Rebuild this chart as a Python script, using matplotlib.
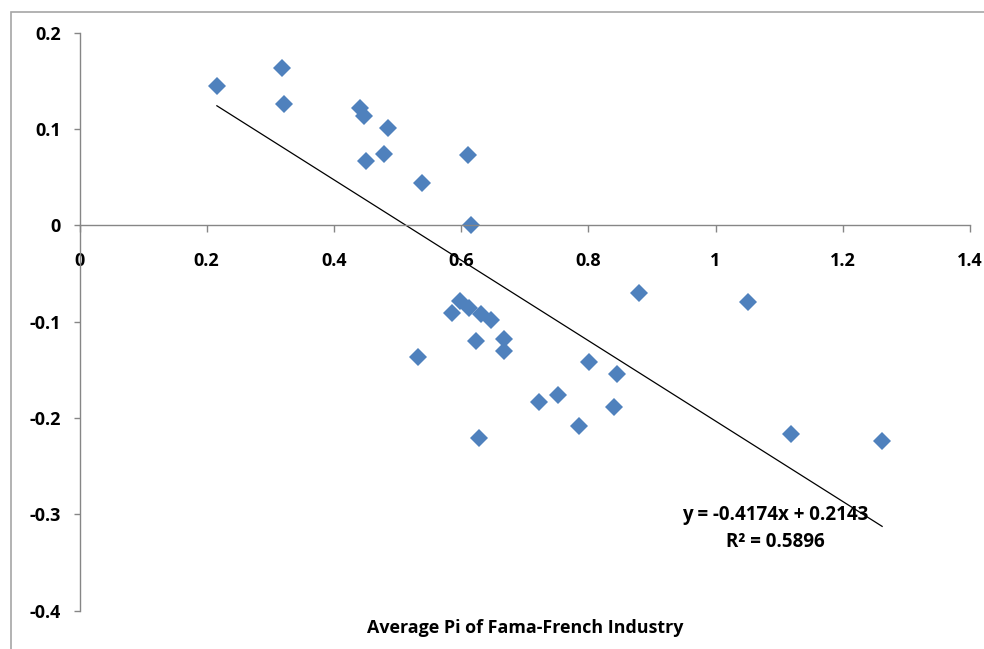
import matplotlib
matplotlib.use("Agg")
import matplotlib.pyplot as plt
from matplotlib.patches import Rectangle
import numpy as np

# average Pi per industry vs. the y-variable
pi_avg = [0.216, 0.318, 0.322, 0.441, 0.448, 0.485, 0.479, 0.451, 0.539, 0.611, 0.615,
          0.598, 0.612, 0.585, 0.632, 0.647, 0.623, 0.668, 0.667, 0.532, 0.880, 0.801,
          0.845, 0.723, 0.752, 0.840, 0.786, 0.628, 1.051, 1.118, 1.262]
y_val = [0.145, 0.163, 0.126, 0.122, 0.114, 0.101, 0.074, 0.067, 0.044, 0.073, 0.000,
         -0.078, -0.086, -0.091, -0.092, -0.098, -0.120, -0.118, -0.130, -0.137, -0.070, -0.142,
         -0.154, -0.183, -0.176, -0.189, -0.208, -0.221, -0.080, -0.217, -0.224]

slope = -0.4174
intercept = 0.2143
r2 = 0.5896

x_ticks = [0, 0.2, 0.4, 0.6, 0.8, 1, 1.2, 1.4]
y_ticks = [0.2, 0.1, 0, -0.1, -0.2, -0.3, -0.4]

plt.rcParams['font.family'] = ['Open Sans', 'DejaVu Sans']
plt.rcParams['font.weight'] = 'bold'

fig = plt.figure(figsize=(9.84, 6.49), dpi=100)
ax = fig.add_axes([79.5 / 984, 1 - 610.7 / 649, (969.9 - 79.5) / 984, (610.7 - 32.7) / 649])

grey = '#868686'

ax.plot(pi_avg, y_val, linestyle='none', marker='D', markersize=9,
        color='#4F81BD', markeredgewidth=0)

# linear trendline across the data range
xs = np.array([min(pi_avg), max(pi_avg)])
ax.plot(xs, slope * xs + intercept, color='black', linewidth=0.9)

ax.set_xlim(0, 1.4)
ax.set_ylim(-0.4, 0.2)
ax.set_xticks(x_ticks)
ax.set_xticklabels(['0', '0.2', '0.4', '0.6', '0.8', '1', '1.2', '1.4'])
ax.set_yticks(y_ticks)
ax.set_yticklabels(['0.2', '0.1', '0', '-0.1', '-0.2', '-0.3', '-0.4'])

for s in ['top', 'right']:
    ax.spines[s].set_visible(False)
ax.spines['bottom'].set_position(('data', 0))
for s in ['bottom', 'left']:
    ax.spines[s].set_color(grey)
    ax.spines[s].set_linewidth(1.0)

ax.tick_params(axis='x', direction='out', length=5, width=1, color=grey,
               pad=14, labelsize=13)
ax.tick_params(axis='y', direction='out', length=4.5, width=1, color=grey,
               pad=9, labelsize=13)
for lbl in ax.get_xticklabels() + ax.get_yticklabels():
    lbl.set_fontweight('bold')

ax.text(1.0935, -0.3006, 'y = -0.4174x + 0.2143', ha='center', va='center',
        fontsize=13.5, fontweight='bold')
ax.text(1.0935, -0.3283, 'R² = 0.5896', ha='center', va='center',
        fontsize=13.5, fontweight='bold')

fig.text(525 / 984, 1 - 628 / 649, 'Average Pi of Fama-French Industry',
         ha='center', va='center', fontsize=12.9, fontweight='bold')

# chart area frame
fig.patches.append(Rectangle((11 / 984, -0.1), 1.2, 1 - 12.5 / 649 + 0.1,
                             transform=fig.transFigure, fill=False,
                             edgecolor='#A6A6A6', linewidth=1.2))

fig.savefig('out.png', dpi=100)
